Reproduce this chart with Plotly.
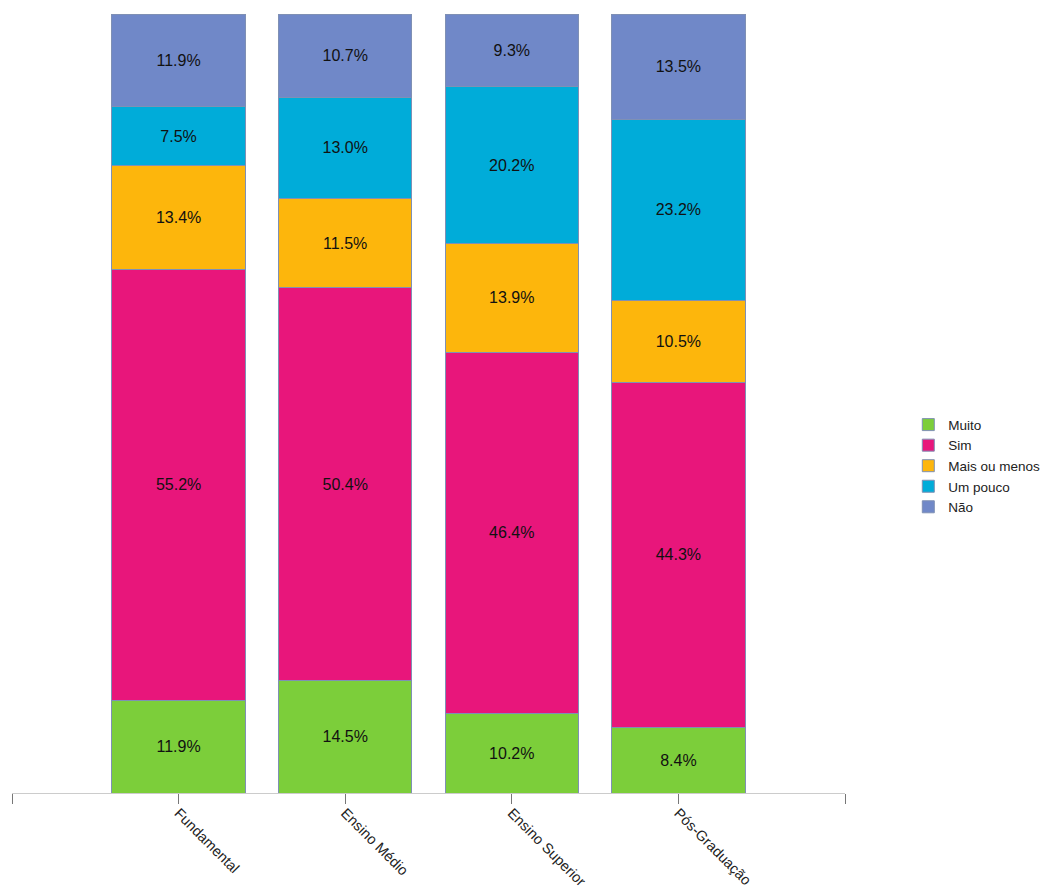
import plotly.graph_objects as go

categories = ['Fundamental', 'Ensino Médio', 'Ensino Superior', 'Pós-Graduação']

series = ['Muito', 'Sim', 'Mais ou menos', 'Um pouco', 'Não']
muito = [11.9, 14.5, 10.2, 8.4]
sim = [55.2, 50.4, 46.4, 44.3]
mais_ou_menos = [13.4, 11.5, 13.9, 10.5]
um_pouco = [7.5, 13.0, 20.2, 23.2]
nao = [11.9, 10.7, 9.3, 13.5]

colors = ['#7cce3a', '#e8167b', '#fdb60c', '#00acd9', '#7088c8']

xpos = list(range(len(categories)))

fig = go.Figure()
for name, vals, col in zip(series, [muito, sim, mais_ou_menos, um_pouco, nao], colors):
    fig.add_trace(go.Bar(
        x=xpos,
        y=vals,
        name=name,
        width=0.8,
        marker=dict(color=col, line=dict(color='#7f90b4', width=1)),
        text=[f'{v:.1f}%' for v in vals],
        textposition='inside',
        insidetextanchor='middle',
        textangle=0,
        constraintext='none',
        textfont=dict(family='Liberation Sans, Arial, sans-serif', size=16, color='#111111'),
        hoverinfo='name+y',
    ))

# page body has an 8px margin, so the figure is a bit smaller than the window
fig.update_layout(
    barmode='stack',
    barnorm='percent',
    width=1040,
    height=882,
    margin=dict(l=4, r=203, t=6, b=97, autoexpand=False),
    plot_bgcolor='white',
    paper_bgcolor='white',
    font=dict(family='Liberation Sans, Arial, sans-serif', size=14, color='#222222'),
    xaxis=dict(
        range=[-1, 4],
        tickvals=[-1] + xpos + [4],
        ticktext=[''] + categories + [''],
        tickangle=45,
        ticks='outside',
        ticklen=10,
        tickcolor='#777777',
        ticklabelstandoff=-5,
        showline=True,
        linecolor='#cccccc',
        showgrid=False,
        zeroline=False,
        automargin=False,
        tickfont=dict(size=14.5, color='#222222'),
    ),
    yaxis=dict(
        range=[0, 100],
        visible=False,
        showgrid=False,
        zeroline=False,
        automargin=False,
    ),
    legend=dict(
        x=1.076,
        y=0.42,
        xanchor='left',
        yanchor='middle',
        traceorder='normal',
        font=dict(size=13.5, color='#222222'),
        itemwidth=30,
        tracegroupgap=0,
    ),
    showlegend=True,
)

fig.write_html('out.html')
